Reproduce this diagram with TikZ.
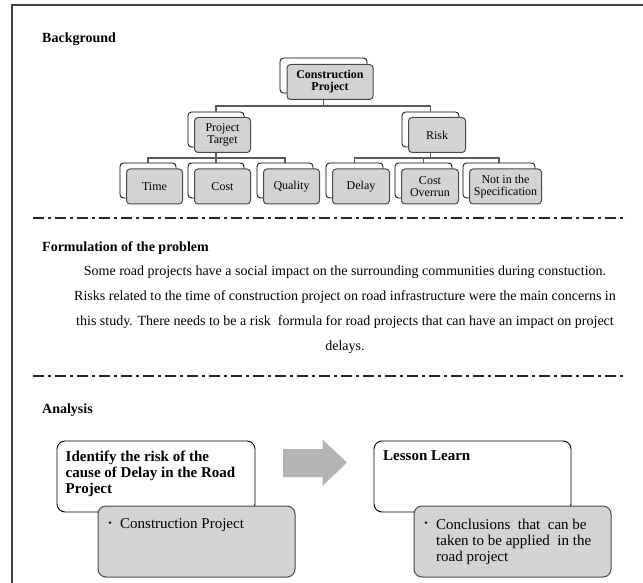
\documentclass[tikz,border=0pt]{standalone}
\usepackage{fontspec}
\setmainfont{Liberation Serif}
\definecolor{boxgray}{HTML}{D3D3D3}
\definecolor{edgegray}{HTML}{4A4A4A}
\definecolor{arrowgray}{HTML}{B4B4B4}
\definecolor{linegray}{HTML}{5A5A5A}
\begin{document}
\begin{tikzpicture}[x=1pt,y=-1pt,
  backbox/.style={draw=black, fill=white, rounded corners=3.5pt, line width=0.8pt, minimum height=35pt, inner sep=0pt},
  frontbox/.style={draw=edgegray, fill=boxgray, rounded corners=3.5pt, line width=1pt, minimum height=35pt, inner sep=1pt, align=center, font=\fontsize{12}{12}\selectfont},
  conn/.style={draw=linegray, line width=1.1pt},
  head/.style={anchor=west, inner sep=0pt, font=\fontsize{14}{16}\selectfont\bfseries},
  para/.style={inner sep=0pt, font=\fontsize{14}{16}\selectfont},
  dashdot/.style={draw=black!85, line width=2pt, dash pattern=on 11pt off 4pt on 3pt off 4pt},
  whitebox/.style={draw=black, fill=white, rounded corners=8pt, line width=0.9pt, inner sep=0pt},
  graybox/.style={draw=edgegray, fill=boxgray, rounded corners=8pt, line width=1pt, inner sep=0pt},
  boxtext/.style={anchor=north west, inner sep=0pt, align=left, font=\fontsize{15}{16}\selectfont},
  bul/.style={inner sep=0pt, font=\fontsize{10}{10}\selectfont}
]
\useasboundingbox (0,0) rectangle (643,583);
% frame
\draw[draw=black!75, line width=1.5pt] (12,583) -- (12,5) -- (643,5);

% Background
\node[head] (hbg) at (42,39) {Background};

% tree: back boxes
\node[backbox, minimum width=87pt] (cpB) at (323.5,75.5) {};
\node[backbox, minimum width=56pt] (ptB) at (216,129.5) {};
\node[backbox, minimum width=57pt] (rkB) at (430.5,129.5) {};
\node[backbox, minimum width=56pt] (tiB) at (148,180.5) {};
\node[backbox, minimum width=56pt] (coB) at (216,180.5) {};
\node[backbox, minimum width=56pt] (quB) at (285,180.5) {};
\node[backbox, minimum width=57pt] (deB) at (354.5,180.5) {};
\node[backbox, minimum width=57pt] (ovB) at (423.5,180.5) {};
\node[backbox, minimum width=72pt] (spB) at (499,180.5) {};
% tree: front boxes
\node[frontbox, minimum width=86pt, font=\fontsize{12}{12}\selectfont\bfseries] (cp) at (330,82) {Construction\\Project};
\node[frontbox, minimum width=56pt] (pt) at (222.5,135) {Project\\Target};
\node[frontbox, minimum width=57pt] (rk) at (437,135) {Risk};
\node[frontbox, minimum width=56pt] (ti) at (154.5,186.5) {Time};
\node[frontbox, minimum width=56pt] (co) at (222.5,186.5) {Cost};
\node[frontbox, minimum width=56pt] (qu) at (291.5,186.5) {Quality};
\node[frontbox, minimum width=57pt] (de) at (361,186.5) {Delay};
\node[frontbox, minimum width=57pt] (ov) at (430,186.5) {Cost\\Overrun};
\node[frontbox, minimum width=72pt] (sp) at (505.5,186.5) {Not in the\\Specification};
% connectors
\coordinate (bus1) at (0,106);
\coordinate (bus2) at (0,158);
\draw[conn] (cpB |- cp.south) -- (cpB |- bus1) -| (ptB.north);
\draw[conn] (cpB |- bus1) -| (rkB.north);
\draw[conn] (ptB |- pt.south) -- (ptB |- bus2) -| (tiB.north);
\draw[conn] (ptB |- bus2) -| (quB.north);
\draw[conn] (ptB |- bus2) -- (coB.north);
\draw[conn] (rkB |- rk.south) -- (rkB |- bus2) -| (deB.north);
\draw[conn] (rkB |- bus2) -| (ovB.north);
\draw[conn] (rkB |- bus2) -| (spB.north);

% separator 1
\draw[dashdot] (33,218) -- (627,218);

% Formulation
\node[head] (hfp) at (42,248) {Formulation of the problem};
\node[para] (p1) at (345,272) {Some road projects have a social impact on the surrounding communities during constuction.};
\node[para] (p2) at (345,297) {Risks related to the time of construction project on road infrastructure were the main concerns in};
\node[para] (p3) at (345,322) {this study. There needs to be a risk\ \ formula for road projects that can have an impact on project};
\node[para] (p4) at (345,347) {delays.};

% separator 2
\draw[dashdot] (33,376) -- (627,376);

% Analysis
\node[head] (han) at (42,410) {Analysis};
\node[whitebox, minimum width=198pt, minimum height=71pt] (idB) at (156,476.5) {};
\node[graybox, minimum width=197pt, minimum height=71pt] (cpG) at (196.5,541.5) {};
\node[whitebox, minimum width=197pt, minimum height=71pt] (llB) at (472.5,476.5) {};
\node[graybox, minimum width=197pt, minimum height=71pt] (ccG) at (512.5,541.5) {};
\fill[arrowgray] (283,449) -- (322.5,449) -- (322.5,439.5) -- (347,462.5) -- (322.5,486) -- (322.5,477) -- (283,477) -- cycle;

\node[boxtext, font=\fontsize{15}{16}\selectfont\bfseries] (idT) at (65.5,450.5) {Identify the risk of the\\cause of Delay in the Road\\Project};
\node[boxtext, font=\fontsize{15}{16}\selectfont\bfseries] (llT) at (383,450.5) {Lesson Learn};
\node[bul] (b1) at (110,524) {\textbullet};
\node[boxtext] (cpT) at (120,518.5) {Construction Project};
\node[bul] (b2) at (426,524) {\textbullet};
\node[boxtext] (ccT) at (436,518.5) {Conclusions\ \ that\ \ can be\\taken to be applied\ \ in the\\road project};
\end{tikzpicture}
\end{document}
